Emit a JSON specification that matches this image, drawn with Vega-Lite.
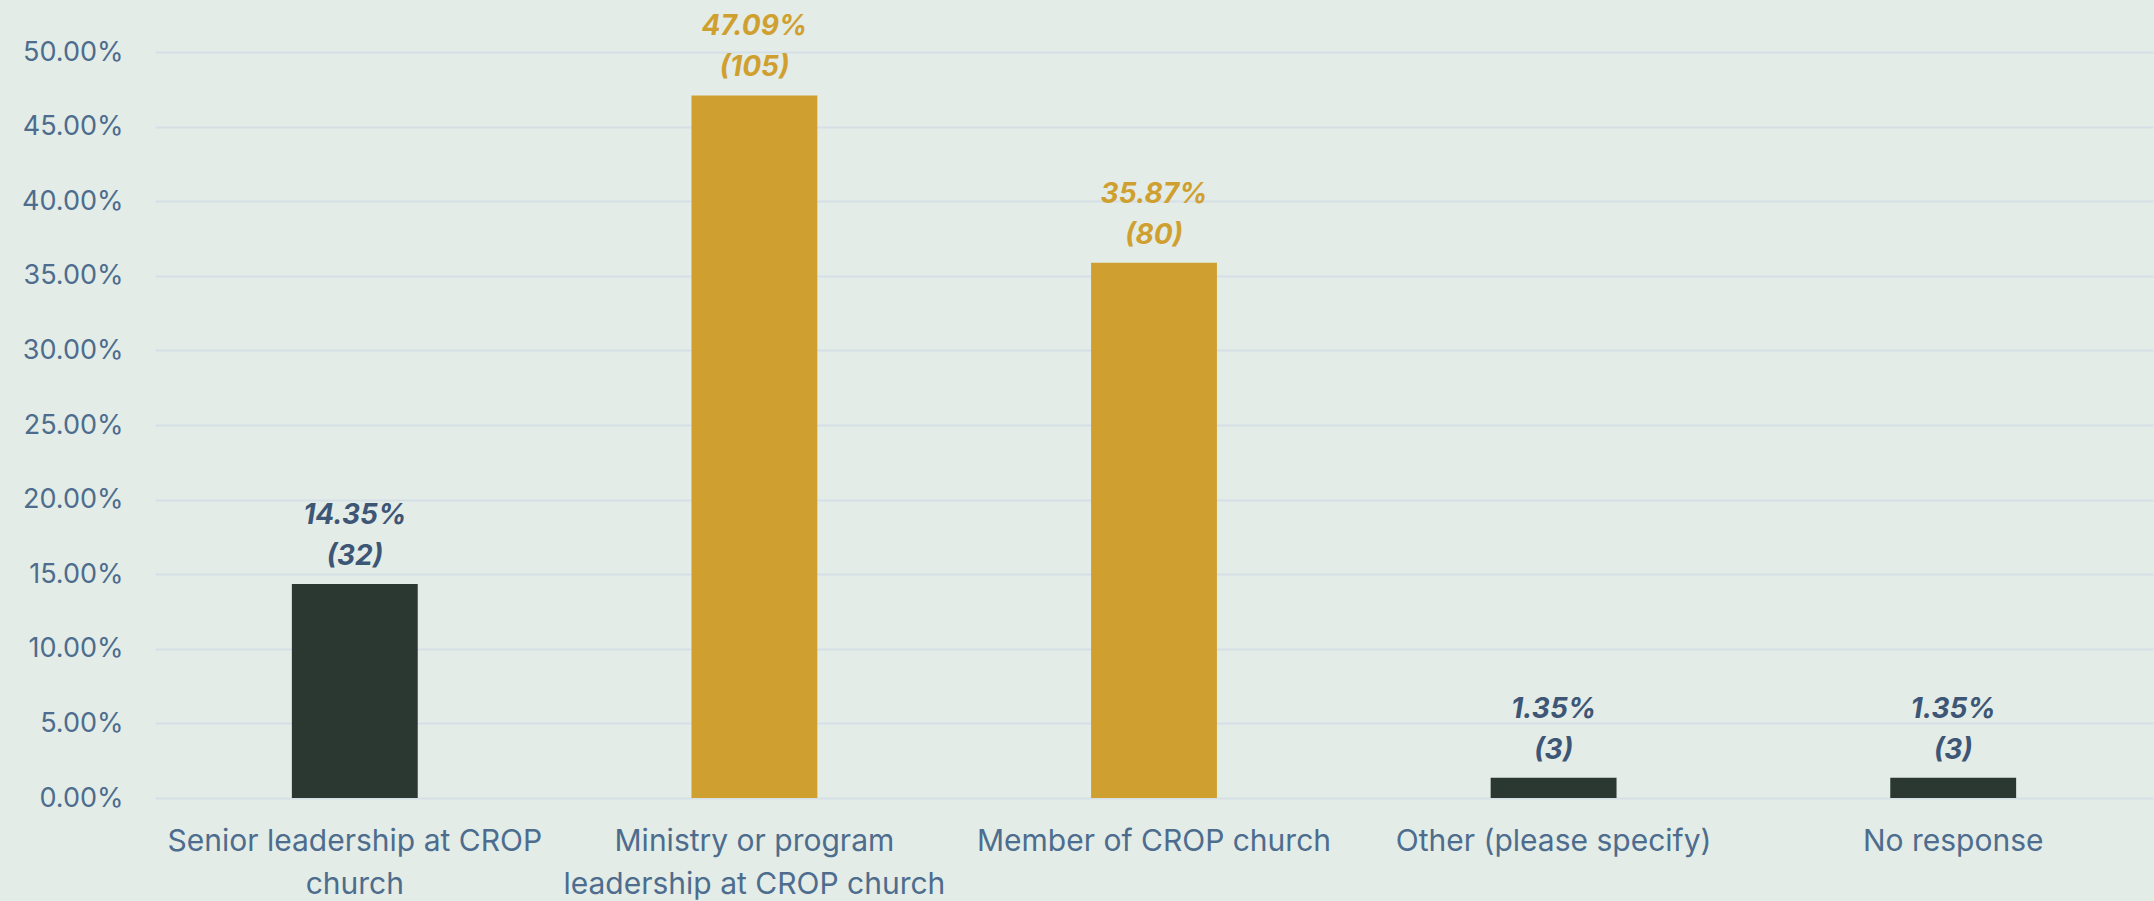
{
  "$schema": "https://vega.github.io/schema/vega-lite/v6.json",
  "width": 1998,
  "height": 746,
  "autosize": {"type": "none"},
  "padding": {"left": 155, "top": 52, "right": 1, "bottom": 103},
  "background": "#E3ECE6",
  "config": {
    "view": {"stroke": null},
    "font": "Inter"
  },
  "data": {
    "values": [
      {"role": "Senior leadership at CROP church", "pct": 14.35, "count": 32, "grp": "dark"},
      {"role": "Ministry or program leadership at CROP church", "pct": 47.09, "count": 105, "grp": "gold"},
      {"role": "Member of CROP church", "pct": 35.87, "count": 80, "grp": "gold"},
      {"role": "Other (please specify)", "pct": 1.35, "count": 3, "grp": "dark"},
      {"role": "No response", "pct": 1.35, "count": 3, "grp": "dark"}
    ]
  },
  "encoding": {
    "x": {
      "field": "role",
      "type": "nominal",
      "sort": null,
      "scale": {"paddingInner": 0.685, "paddingOuter": 0.3425},
      "axis": {
        "title": null,
        "labelAngle": 0,
        "domain": false,
        "ticks": false,
        "labelPadding": 28,
        "labelFont": "Inter",
        "labelFontSize": 30,
        "labelColor": "#4D6C8E",
        "labelLineHeight": 43,
        "labelLimit": 600,
        "labelExpr": "datum.value == 'Senior leadership at CROP church' ? ['Senior leadership at CROP', 'church'] : datum.value == 'Ministry or program leadership at CROP church' ? ['Ministry or program', 'leadership at CROP church'] : datum.value"
      }
    },
    "y": {
      "field": "pct",
      "type": "quantitative",
      "scale": {"domain": [0, 50], "nice": false},
      "axis": {
        "title": null,
        "values": [0, 5, 10, 15, 20, 25, 30, 35, 40, 45, 50],
        "labelExpr": "format(datum.value, '.2f') + '%'",
        "domain": false,
        "ticks": false,
        "labelPadding": 32,
        "labelFont": "Inter",
        "labelFontSize": 27,
        "labelColor": "#4D6C8E",
        "grid": true,
        "gridColor": "#D6DFE7",
        "gridWidth": 2
      }
    },
    "color": {
      "field": "grp",
      "type": "nominal",
      "scale": {"domain": ["dark", "gold"], "range": ["#2B3832", "#CFA02F"]},
      "legend": null
    }
  },
  "layer": [
    {
      "mark": {"type": "bar"}
    },
    {
      "transform": [
        {"calculate": "format(datum.pct, '.2f') + '%'", "as": "lbl"}
      ],
      "mark": {
        "type": "text",
        "baseline": "middle",
        "dy": -68,
        "fontSize": 28,
        "fontWeight": "bold",
        "fontStyle": "italic",
        "font": "Inter"
      },
      "encoding": {
        "text": {"field": "lbl"},
        "color": {
          "field": "grp",
          "type": "nominal",
          "scale": {"domain": ["dark", "gold"], "range": ["#3E5676", "#CFA02F"]},
          "legend": null
        }
      }
    },
    {
      "transform": [
        {"calculate": "'(' + datum.count + ')'", "as": "lbl2"}
      ],
      "mark": {
        "type": "text",
        "baseline": "middle",
        "dy": -27,
        "fontSize": 28,
        "fontWeight": "bold",
        "fontStyle": "italic",
        "font": "Inter"
      },
      "encoding": {
        "text": {"field": "lbl2"},
        "color": {
          "field": "grp",
          "type": "nominal",
          "scale": {"domain": ["dark", "gold"], "range": ["#3E5676", "#CFA02F"]},
          "legend": null
        }
      }
    }
  ],
  "resolve": {"scale": {"color": "independent"}}
}
